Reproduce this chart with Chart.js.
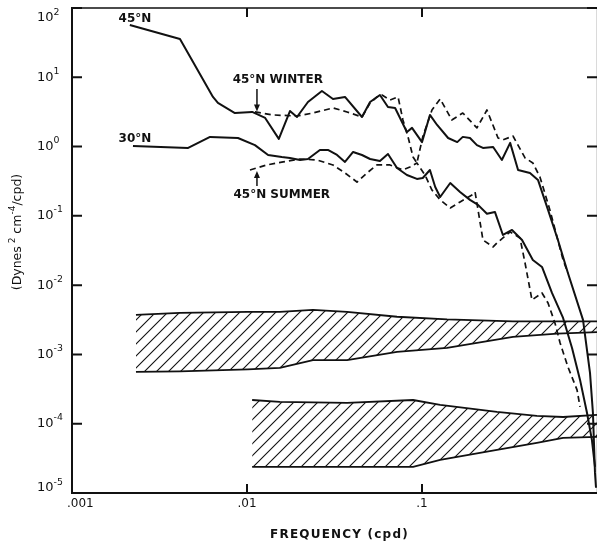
<!DOCTYPE html>
<html>
<head>
<meta charset="utf-8">
<script src="https://cdn.jsdelivr.net/npm/chart.js@4.4.1/dist/chart.umd.min.js"></script>
<style>
  body { margin: 0; background: #fff; }
  #spectra { display: block; }
</style>
</head>
<body>
<canvas id="spectra" width="597" height="547"></canvas>
<script>
// frequency in cycles per day, spectral level in dynes^2 cm^-4 / cpd

// 45N, full record
const lat45Freq = [0.00214, 0.00414, 0.00639, 0.00682, 0.00853, 0.0107, 0.0127, 0.0152, 0.0176, 0.0193,
  0.0223, 0.0268, 0.0310, 0.0363, 0.0454, 0.0505, 0.0575, 0.0639, 0.0702, 0.0820,
  0.0877, 0.100, 0.111, 0.122, 0.141, 0.159, 0.171, 0.188, 0.206, 0.223,
  0.255, 0.286, 0.319, 0.354, 0.414, 0.460, 0.525, 0.598, 0.682, 0.832,
  0.912, 0.948, 0.974, 0.987];
const lat45Power = [56.8, 35.7, 5.20, 4.26, 3.05, 3.16, 2.59, 1.29, 3.26, 2.67,
  4.40, 6.34, 4.86, 5.20, 2.67, 4.40, 5.55, 3.73, 3.61, 1.62,
  1.86, 1.16, 2.86, 2.05, 1.33, 1.16, 1.38, 1.33, 1.05, 0.955,
  0.987, 0.641, 1.13, 0.459, 0.416, 0.330, 0.122, 0.0449, 0.0150, 0.00315,
  0.000541, 0.000143, 0.0000195, 0.0000119];

// 45N, winter months
const winterFreq = [0.0111, 0.0141, 0.0193, 0.0238, 0.0310, 0.0373, 0.0454, 0.0505, 0.0553, 0.0591,
  0.0656, 0.0730, 0.0778, 0.0832, 0.0889, 0.0935, 0.101, 0.114, 0.127, 0.148,
  0.171, 0.206, 0.235, 0.272, 0.290, 0.331, 0.388, 0.430, 0.472, 0.538,
  0.640, 0.682];
const winterPower = [3.16, 2.86, 2.76, 3.05, 3.61, 3.16, 2.67, 4.26, 5.20, 5.55,
  4.70, 5.20, 2.42, 1.38, 0.708, 0.580, 1.38, 3.37, 4.86, 2.42,
  3.05, 1.86, 3.37, 1.33, 1.25, 1.42, 0.685, 0.580, 0.364, 0.122,
  0.0231, 0.0150];

// 30N, full record
const lat30Freq = [0.00223, 0.00461, 0.00615, 0.00888, 0.0111, 0.0132, 0.0158, 0.0176, 0.0201, 0.0223,
  0.0261, 0.0290, 0.0327, 0.0363, 0.0404, 0.0454, 0.0505, 0.0575, 0.0639, 0.0720,
  0.0820, 0.0935, 0.101, 0.111, 0.119, 0.127, 0.145, 0.165, 0.188, 0.209,
  0.235, 0.261, 0.290, 0.327, 0.373, 0.430, 0.485, 0.553, 0.640, 0.720,
  0.800, 0.877, 0.935, 0.974];
const lat30Power = [1.02, 0.955, 1.38, 1.33, 1.05, 0.756, 0.708, 0.685, 0.641, 0.662,
  0.893, 0.893, 0.756, 0.600, 0.836, 0.756, 0.662, 0.620, 0.782, 0.491,
  0.389, 0.341, 0.352, 0.459, 0.261, 0.187, 0.298, 0.221, 0.170, 0.144,
  0.107, 0.114, 0.0530, 0.0626, 0.0449, 0.0231, 0.0183, 0.00771, 0.00336, 0.00124,
  0.000429, 0.000143, 0.0000584, 0.0000238];

// 45N, summer months
const summerFreq = [0.0104, 0.0130, 0.0161, 0.0201, 0.0251, 0.0310, 0.0363, 0.0425, 0.0485, 0.0553,
  0.0656, 0.0778, 0.0853, 0.0935, 0.104, 0.114, 0.127, 0.145, 0.165, 0.193,
  0.201, 0.209, 0.223, 0.255, 0.268, 0.319, 0.363, 0.388, 0.425, 0.485,
  0.525, 0.575, 0.615, 0.682, 0.769, 0.800];
const summerPower = [0.459, 0.543, 0.600, 0.662, 0.641, 0.543, 0.416, 0.308, 0.416, 0.543,
  0.543, 0.459, 0.508, 0.580, 0.389, 0.236, 0.170, 0.130, 0.159, 0.200,
  0.221, 0.122, 0.0449, 0.0356, 0.0406, 0.0586, 0.0480, 0.0209, 0.00611, 0.00771,
  0.00553, 0.00285, 0.00147, 0.000661, 0.000308, 0.000175];

// shaded noise bands
const upperBandFreq = [0.00232, 0.00414, 0.0101, 0.0154, 0.0238, 0.0373, 0.0720, 0.139, 0.331, 0.593, 1.0];
const upperBandHigh = [0.00372, 0.00397, 0.0041, 0.0041, 0.0044, 0.0041, 0.0035, 0.0032, 0.0030, 0.0030, 0.0030];
const upperBandLow = [0.00056, 0.00057, 0.00061, 0.00064, 0.00083, 0.00083, 0.00109, 0.00124, 0.00179, 0.0020, 0.0021];

const lowerBandFreq = [0.0107, 0.0154, 0.0373, 0.0889, 0.127, 0.268, 0.453, 0.640, 1.0];
const lowerBandHigh = [0.00022, 0.000206, 0.000200, 0.00022, 0.000187, 0.000148, 0.000130, 0.000125, 0.000134];
const lowerBandLow = [0.0000238, 0.0000238, 0.0000238, 0.0000238, 0.0000300, 0.0000419, 0.0000528, 0.0000624, 0.0000645];

// axis ticks
const yTickExps = [2, 1, 0, -1, -2, -3, -4, -5];
const xTickValues = [0.001, 0.01, 0.1];
const xTickLabels = ['.001', '.01', '.1'];

const curveLabels = [
  { text: '45°N', freq: 0.00229, level: 69 },
  { text: '30°N', freq: 0.00229, level: 1.29 },
  { text: '45°N WINTER', freq: 0.0150, level: 9.1 },
  { text: '45°N SUMMER', freq: 0.0158, level: 0.20 }
];
const arrows = [
  { freq: 0.0114, from: 6.8, to: 3.2 },
  { freq: 0.0114, from: 0.27, to: 0.445 }
];

const ink = '#111';
const canvas = document.getElementById('spectra');
const ctx = canvas.getContext('2d');

function hatch() {
  const c = document.createElement('canvas');
  c.width = 12; c.height = 12;
  const g = c.getContext('2d');
  g.strokeStyle = ink;
  g.lineWidth = 1.1;
  g.beginPath();
  g.moveTo(-3, 15); g.lineTo(15, -3);
  g.moveTo(-3, 3); g.lineTo(3, -3);
  g.moveTo(9, 15); g.lineTo(15, 9);
  g.stroke();
  return ctx.createPattern(c, 'repeat');
}

const pts = (fs, vs) => fs.map((f, i) => ({ x: f, y: vs[i] }));

function curve(fs, vs, dashed) {
  return {
    data: pts(fs, vs), showLine: true, borderColor: ink,
    borderWidth: dashed ? 1.7 : 2, borderDash: dashed ? [6, 4] : [],
    fill: false, order: 1
  };
}

function bandEdge(fs, vs, fillNext) {
  return {
    data: pts(fs, vs), showLine: true, borderColor: ink, borderWidth: 1.8,
    fill: fillNext ? '+1' : false, backgroundColor: fillNext ? hatch() : 'transparent',
    order: 2
  };
}

// draws "10" with a raised exponent and similar mixed text
function drawRich(parts, x, y, size, align, weight) {
  const sup = size * 0.72;
  let w = 0;
  parts.forEach(p => {
    ctx.font = `${weight} ${p[1] ? sup : size}px "DejaVu Sans"`;
    w += ctx.measureText(p[0]).width;
  });
  let cx = align === 'center' ? x - w / 2 : (align === 'right' ? x - w : x);
  ctx.textAlign = 'left';
  ctx.textBaseline = 'middle';
  parts.forEach(p => {
    ctx.font = `${weight} ${p[1] ? sup : size}px "DejaVu Sans"`;
    ctx.fillText(p[0], cx, p[1] ? y - size * 0.45 : y);
    cx += ctx.measureText(p[0]).width;
  });
}

const frame = {
  id: 'frame',
  afterDraw(chart) {
    const { chartArea: a, scales: { x, y } } = chart;
    ctx.save();
    ctx.strokeStyle = ink;
    ctx.fillStyle = ink;
    ctx.lineCap = 'butt';

    // axes box (right side sits on the canvas edge)
    ctx.lineWidth = 2;
    ctx.beginPath();
    ctx.moveTo(a.left, a.top - 1); ctx.lineTo(a.left, a.bottom); ctx.lineTo(a.right, a.bottom);
    ctx.stroke();
    ctx.lineWidth = 1.5;
    ctx.beginPath();
    ctx.moveTo(a.left, a.top); ctx.lineTo(a.right, a.top);
    ctx.moveTo(a.right + 0.6, a.top); ctx.lineTo(a.right + 0.6, a.bottom);
    ctx.stroke();

    // inward tick marks
    ctx.lineWidth = 2;
    ctx.beginPath();
    yTickExps.forEach(e => {
      const py = y.getPixelForValue(Math.pow(10, e));
      ctx.moveTo(a.left, py); ctx.lineTo(a.left + 10, py);
      ctx.moveTo(a.right, py); ctx.lineTo(a.right - 10, py);
    });
    xTickValues.slice(1).forEach(v => {
      const px = x.getPixelForValue(v);
      ctx.moveTo(px, a.bottom); ctx.lineTo(px, a.bottom - 9);
      ctx.moveTo(px, a.top); ctx.lineTo(px, a.top + 9);
    });
    ctx.stroke();

    // y tick labels
    yTickExps.forEach(e => {
      const py = Math.min(Math.max(y.getPixelForValue(Math.pow(10, e)), a.top + 10), a.bottom - 5);
      drawRich([['10', false], [String(e), true]], a.left - 35, py, 13, 'left', 'normal');
    });

    // x tick labels
    ctx.font = '12px "DejaVu Sans"';
    ctx.textBaseline = 'middle';
    xTickValues.forEach((v, i) => {
      const px = x.getPixelForValue(v);
      ctx.textAlign = i === 0 ? 'left' : 'center';
      ctx.fillText(xTickLabels[i], i === 0 ? px - 5 : px, a.bottom + 11);
    });

    // axis titles
    ctx.font = 'bold 12px "DejaVu Sans"';
    ctx.letterSpacing = '1.2px';
    ctx.textAlign = 'center';
    ctx.fillText('FREQUENCY (cpd)', (a.left + a.right) / 2 + 5, a.bottom + 42);
    ctx.letterSpacing = '0px';

    ctx.save();
    ctx.translate(18, 232);
    ctx.rotate(-Math.PI / 2);
    drawRich([['(Dynes', false], [' 2', true], [' cm', false], ['-4', true], ['/cpd)', false]], 0, 0, 12.5, 'center', 'normal');
    ctx.restore();

    // curve labels
    ctx.font = 'bold 12px "DejaVu Sans"';
    ctx.textAlign = 'center';
    ctx.textBaseline = 'middle';
    curveLabels.forEach(l => {
      ctx.fillText(l.text, x.getPixelForValue(l.freq), y.getPixelForValue(l.level));
    });

    // arrows pointing at the seasonal curves
    ctx.lineWidth = 1.5;
    arrows.forEach(ar => {
      const px = x.getPixelForValue(ar.freq);
      const y0 = y.getPixelForValue(ar.from);
      const y1 = y.getPixelForValue(ar.to);
      const dir = y1 > y0 ? 1 : -1;
      ctx.beginPath();
      ctx.moveTo(px, y0); ctx.lineTo(px, y1 - dir * 4);
      ctx.stroke();
      ctx.beginPath();
      ctx.moveTo(px, y1);
      ctx.lineTo(px - 3, y1 - dir * 7);
      ctx.lineTo(px + 3, y1 - dir * 7);
      ctx.closePath();
      ctx.fill();
    });
    ctx.restore();
  }
};

new Chart(canvas, {
  type: 'scatter',
  data: {
    datasets: [
      curve(lat45Freq, lat45Power, false),
      curve(winterFreq, winterPower, true),
      curve(lat30Freq, lat30Power, false),
      curve(summerFreq, summerPower, true),
      bandEdge(upperBandFreq, upperBandHigh, true),
      bandEdge(upperBandFreq, upperBandLow, false),
      bandEdge(lowerBandFreq, lowerBandHigh, true),
      bandEdge(lowerBandFreq, lowerBandLow, false)
    ]
  },
  options: {
    responsive: false,
    animation: false,
    layout: { padding: { left: 72, right: 0, top: 8, bottom: 54 } },
    plugins: { legend: { display: false }, tooltip: { enabled: false } },
    elements: { point: { radius: 0 }, line: { tension: 0, borderJoinStyle: 'round' } },
    scales: {
      x: { type: 'logarithmic', min: 0.001, max: 1, display: false },
      y: { type: 'logarithmic', min: 0.00001, max: 100, display: false }
    }
  },
  plugins: [frame]
});
</script>
</body>
</html>
